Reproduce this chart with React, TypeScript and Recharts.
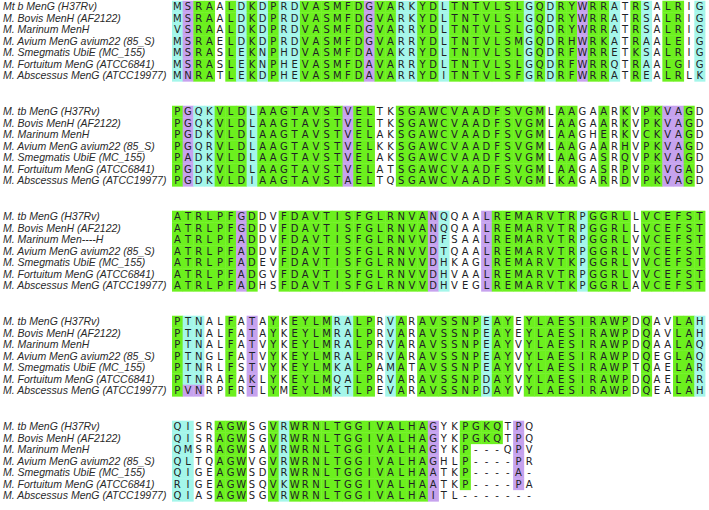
import { Scatter, ScatterChart, XAxis, YAxis } from "recharts";

document.body.style.margin = "0";

// species labels, one list per alignment block
const labels1 = [
  "Mt b MenG (H37Rv)",
  "M. Bovis MenH (AF2122)",
  "M. Marinum MenH",
  "M. Avium MenG avium22 (85_S)",
  "M. Smegmatis UbiE (MC_155)",
  "M. Fortuitum MenG (ATCC6841)",
  "M. Abscessus MenG (ATCC19977)",
];
const labels2 = ["M. tb MenG (H37Rv)", ...labels1.slice(1)];
const labels3 = [
  "M. tb MenG (H37Rv)",
  "M. Bovis MenH (AF2122)",
  "M. Marinum Men----H",
  ...labels1.slice(3),
];
const labels4 = labels2;
const labels5 = labels2;

// residues per block (rows in label order)
const seqs1 = [
  "MSRAALDKDPRDVASMFDGVARKYDLTNTVLSLGQDRYWRRATRSALRIG",
  "MSRAALDKDPRDVASMFDGVARKYDLTNTVLSLGQDRYWRRATRSALRIG",
  "VSRAALDKDPRDVASMFDGVARRYDLTNTVLSLGQDRYWRRATRSALRIG",
  "MSRAELDKDPRDVASMFDGVARRYDLTNTVLSMGQDRHWRKATRAALEIG",
  "MSRASLEKNPHDVASMFDAVAKRYDLTNTVLSLGQDRFWRRETKSALRIG",
  "MSRASLEKNPHEVASMFDAVARRYDLTNTVLSLGQDRFWRRQTRAALGIG",
  "MNRATLEKDPHEVASMFDAVARRYDITNTVLSFGRDRFWRRATREALRLK",
];
const seqs2 = [
  "PGQKVLDLAAGTAVSTVELTKSGAWCVAADFSVGMLAAGAARKVPKVAGD",
  "PGQKVLDLAAGTAVSTVELTKSGAWCVAADFSVGMLAAGAARKVPKVAGD",
  "PGDKVLDLAAGTAVSTVELAKSGAWCVAADFSVGMLAAGHERKVCKVAGD",
  "PGQRVLDLAAGTAVSTVELKKSGAWCVAADFSVGMLAAGAARHVPKVAGD",
  "PADKVLDLAAGTAVSTVELAKSGAWCVAADFSVGMLAAGASRQVPKVAGD",
  "PGDKVLDLAAGTAVSTVELATSGAWCVAADFSVGMLAAGASRPVPKVGAD",
  "PGDKVLDIAAGTAVSTAELTQSGAWCVAADFSVGMLKAGARRDVPKVAGD",
];
const seqs3 = [
  "ATRLPFGDDVFDAVTISFGLRNVANQQAALREMARVTRPGGRLLVCEFST",
  "ATRLPFGDDVFDAVTISFGLRNVANQQAALREMARVTRPGGRLLVCEFST",
  "ATRLPFADDVFDAVTISFGLRNVVDFSAALREMARVTRPGGRLVVCEFST",
  "ATRLPFADDVFDAVTISFGLRNVVDTQAALREMARVTRPGGRLVVCEFST",
  "ATRLPFADEVFDAVTISFGLRNVVDHKAGLREMARVTKPGGRLVVCEFST",
  "ATRLPFADGVFDAVTISFGLRNVVDHVAALREMARVTRPGGRLVVCEFST",
  "ATRLPFADHSFDAVTISFGLRNVVDHVEGLREMARVTKPGGRLAVCEFST",
];
const seqs4 = [
  "PTNALFATAYKEYLMRALPRVARAVSSNPEAYEYLAESIRAWPDQAVLAH",
  "PTNALFATAYKEYLMRALPRVARAVSSNPEAYEYLAESIRAWPDQAVLAH",
  "PTNALFATVYKEYLMRALPRVARAVSSNPEAYVYLAESIRAWPDQAALAQ",
  "PTNGLFATVYKEYLMRALPRVARAVSSNPEAYVYLAESIRAWPDQEGLAQ",
  "PTNRLFSTVYKEYLMKALPAMATAVSSNPEAYVYLAESIRAWPTQAELAR",
  "PTNRAFAKLYKEYLMQALPRVARAVSSNPDAYVYLAESIRAWPDQAELAR",
  "PVNRPFRTLYMEYLMKTLPEVARAVSSNPDAYVYLAESIRAWPDQEALAH",
];
const seqs5 = [
  "QISRAGWSGVRWRNLTGGIVALHAGYKPGKQTPQ",
  "QISRAGWSGVRWRNLTGGIVALHAGYKPGKQTPQ",
  "QMSRAGWSAVRWRNLTGGIVALHAGYKP---QPV",
  "QLTQAGWVGVRWRNLTGGIVALHAGHLP----PR",
  "QIGEAGWSDVRWRNLTGGIVALHAATKP----A-",
  "RIGEAGWSQVKWRNLTGGIVALHAATKP----PA",
  "QIASAGWSGVRWRNLTGGIVALHAITL-------",
];

// column shading: g identical, c similar, p weak, w none
const shade1 = "cpggwgcgcgccggggggpggccggcgggggggcgcggpggcwgcwggwcw";
const shade2 = "gpccgggcggggggggpggwwggggggggggggggwggwwgwgwggppg";
const shade3 = "ggggggpgwwggggggggggggggpcwwwpggggggggcggggwgggggg";
const shade4 = "gccwwgwpwgwggggccggwcgwggggggcggwggggggggggwgwwggc";
const shade5 = "ccwwgggwwgcgggggggggggggpwwggggwpw";

// single cells shaded unlike their column: [block, row, column, class]
const cellShades: [number, number, number, string][] = [
  [3, 6, 1, "p"],
  [3, 6, 2, "p"],
];

const FILLS: Record<string, string | null> = {
  g: "#6cf01e",
  c: "#a4f6ea",
  p: "#c6a2ee",
  w: null,
};

const WIDTH = 709;
const HEIGHT = 510;
const LABEL_W = 172;
const RIGHT = 4;
const NCOLS = 50;
const ROW_PX = 11.5;
const CELL_W = (WIDTH - LABEL_W - RIGHT) / NCOLS;
const FIRST_ROW = 0.565;
const BLOCK_STRIDE = 9.13;

const blocks = [
  { labels: labels1, seqs: seqs1, shade: shade1 },
  { labels: labels2, seqs: seqs2, shade: shade2 },
  { labels: labels3, seqs: seqs3, shade: shade3 },
  { labels: labels4, seqs: seqs4, shade: shade4 },
  { labels: labels5, seqs: seqs5, shade: shade5 },
];

function shadeOf(bi: number, ri: number, ci: number, ch: string) {
  if (ch === "-") return "w";
  const hit = cellShades.find((s) => s[0] === bi && s[1] === ri && s[2] === ci);
  if (hit) return hit[3];
  return blocks[bi].shade[ci] || "w";
}

const residues = blocks.flatMap((b, bi) =>
  b.seqs.flatMap((s, ri) =>
    s.split("").map((ch, ci) => ({
      x: ci + 0.5,
      y: FIRST_ROW + bi * BLOCK_STRIDE + ri,
      ch,
      cls: shadeOf(bi, ri, ci, ch),
    }))
  )
);

const rowTicks = blocks.flatMap((b, bi) =>
  b.labels.map((_, ri) => FIRST_ROW + bi * BLOCK_STRIDE + ri)
);
const rowLabels = blocks.flatMap((b) => b.labels);

function Residue(props: any) {
  const { cx, cy, payload } = props;
  const fill = FILLS[payload.cls];
  return (
    <g>
      {fill && (
        <rect
          x={cx - CELL_W / 2}
          y={cy - ROW_PX / 2}
          width={CELL_W + 0.4}
          height={ROW_PX + 0.4}
          fill={fill}
        />
      )}
      <text
        x={cx}
        y={cy}
        dy="0.36em"
        textAnchor="middle"
        fontFamily="DejaVu Sans"
        fontSize={10}
        fill="#1e2226"
      >
        {payload.ch}
      </text>
    </g>
  );
}

function LabelTick(props: any) {
  const { y, index } = props;
  return (
    <text
      x={3}
      y={y}
      dy="0.35em"
      textAnchor="start"
      fontFamily="Liberation Sans"
      fontStyle="italic"
      fontSize={10.5}
      fill="#2a2a2a"
    >
      {rowLabels[index]}
    </text>
  );
}

export default function App() {
  return (
    <div style={{ width: WIDTH, height: HEIGHT, background: "#fff" }}>
      <ScatterChart
        width={WIDTH}
        height={HEIGHT}
        margin={{ top: 0, right: RIGHT, bottom: 0, left: 0 }}
      >
        <XAxis type="number" dataKey="x" domain={[0, NCOLS]} hide />
        <YAxis
          type="number"
          dataKey="y"
          domain={[0, HEIGHT / ROW_PX]}
          reversed
          width={LABEL_W}
          ticks={rowTicks}
          interval={0}
          axisLine={false}
          tickLine={false}
          tick={<LabelTick />}
        />
        <Scatter data={residues} shape={<Residue />} isAnimationActive={false} />
      </ScatterChart>
    </div>
  );
}
